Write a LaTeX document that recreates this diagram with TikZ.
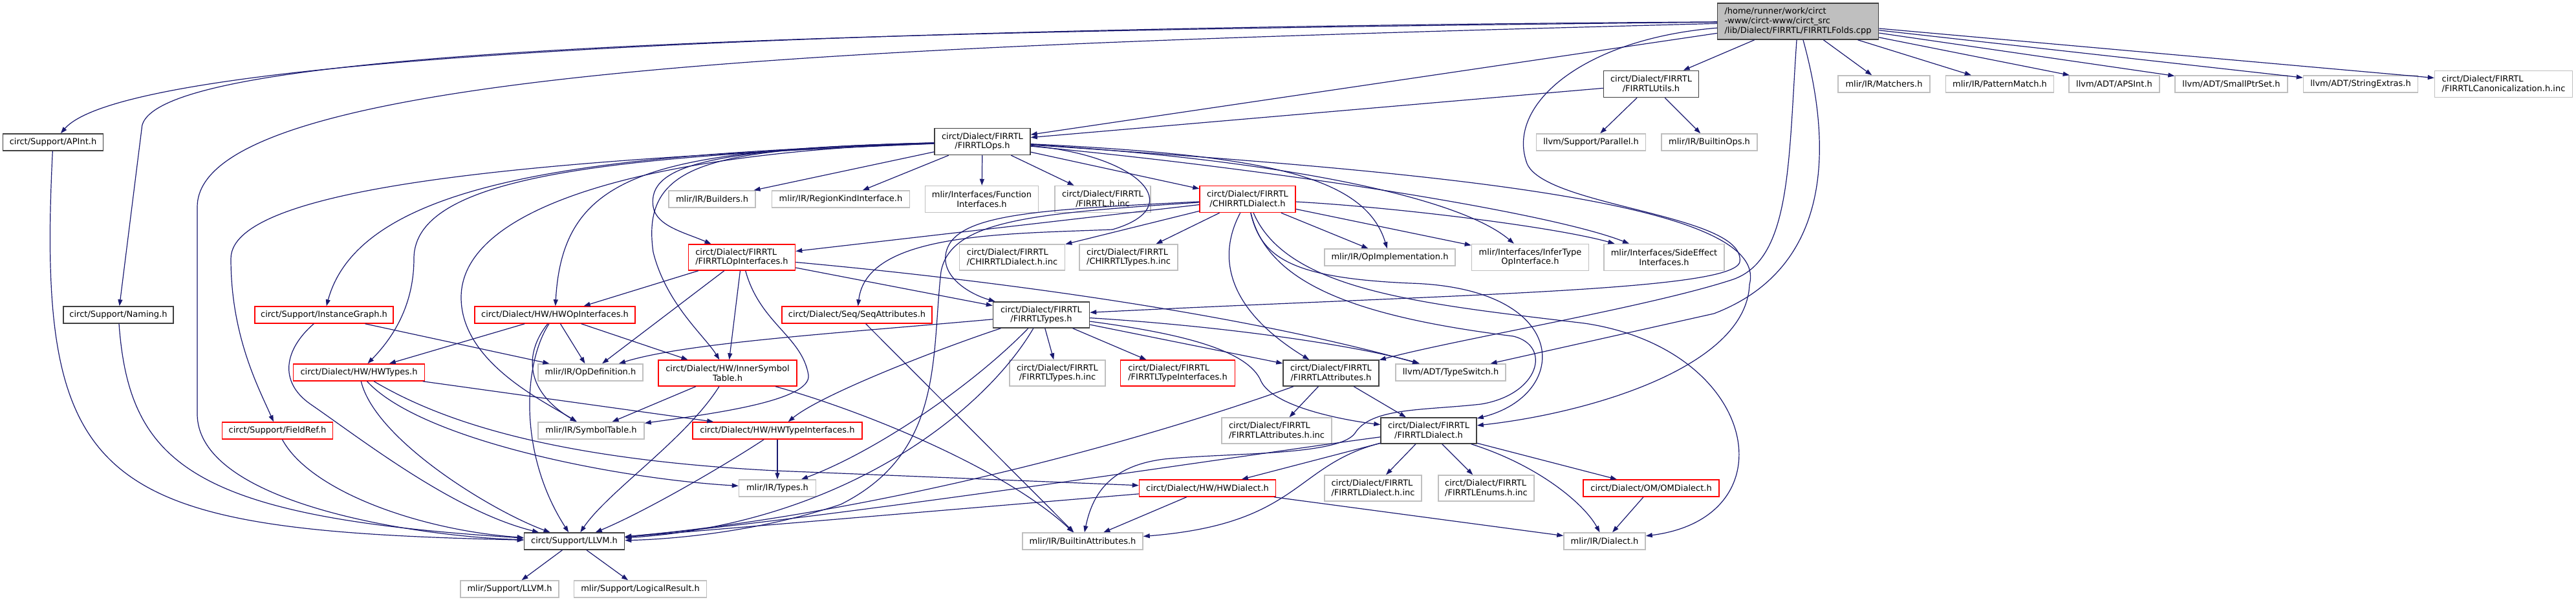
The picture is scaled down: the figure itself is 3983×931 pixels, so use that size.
\documentclass[tikz,border=0pt]{standalone}
\usepackage{fontspec}
\setmainfont{DejaVu Sans}
\usetikzlibrary{arrows.meta}
\definecolor{edgeblue}{HTML}{191970}
\definecolor{boxgray}{HTML}{BFBFBF}
\definecolor{boxdark}{HTML}{404040}
\begin{document}
\begin{tikzpicture}[x=1pt, y=-1pt,
    hdr/.style={draw, fill=white, line width=1.5pt, inner sep=1pt, align=center,
        font=\fontsize{13}{14.7}\selectfont, minimum height=26},
    docbox/.style={hdr, draw=boxdark},
    extbox/.style={hdr, draw=boxgray},
    redbox/.style={hdr, draw=red},
    rootbox/.style={hdr, draw=boxdark, fill=boxgray},
    incl/.style={draw=edgeblue, line width=1.2pt, -{Triangle[length=10pt, width=7pt]}}]
    \useasboundingbox (0,0) rectangle (3983,931);

    % Main file and its top row
    \node[rootbox, align=left, minimum width=249, minimum height=56] (folds) at (2780,33)
        {/home/runner/work/circt\\-www/circt-www/circt\_src\\/lib/Dialect/FIRRTL/FIRRTLFolds.cpp};
    \node[docbox, minimum width=147, minimum height=41] (utils) at (2553,130) {circt/Dialect/FIRRTL\\/FIRRTLUtils.h};
    \node[extbox, minimum width=142] (matchers) at (2913,130) {mlir/IR/Matchers.h};
    \node[extbox, minimum width=167] (pattern) at (3092,130) {mlir/IR/PatternMatch.h};
    \node[extbox, minimum width=140] (apsint) at (3269,130) {llvm/ADT/APSInt.h};
    \node[extbox, minimum width=174] (smallptr) at (3450,130) {llvm/ADT/SmallPtrSet.h};
    \node[extbox, minimum width=177] (strext) at (3650,130) {llvm/ADT/StringExtras.h};
    \node[extbox, align=left, minimum width=213, minimum height=41] (canon) at (3871,130) {circt/Dialect/FIRRTL\\/FIRRTLCanonicalization.h.inc};

    % Second row
    \node[docbox, minimum width=155] (apint) at (82,220) {circt/Support/APInt.h};
    \node[docbox, minimum width=148, minimum height=41] (ops) at (1519,219) {circt/Dialect/FIRRTL\\/FIRRTLOps.h};
    \node[extbox, minimum width=169] (parallel) at (2460,220) {llvm/Support/Parallel.h};
    \node[extbox, minimum width=148] (builtinops) at (2643,220) {mlir/IR/BuiltinOps.h};

    % Third row
    \node[extbox, minimum width=134] (builders) at (1101,308) {mlir/IR/Builders.h};
    \node[extbox, minimum width=213] (regionkind) at (1300,308) {mlir/IR/RegionKindInterface.h};
    \node[extbox, minimum width=175, minimum height=41] (funcif) at (1518,308) {mlir/Interfaces/Function\\Interfaces.h};
    \node[extbox, minimum width=148, minimum height=41] (firrtlinc) at (1705,308) {circt/Dialect/FIRRTL\\/FIRRTL.h.inc};
    \node[redbox, minimum width=148, minimum height=41] (chirrtl) at (1929,308) {circt/Dialect/FIRRTL\\/CHIRRTLDialect.h};

    % Fourth row
    \node[redbox, align=left, minimum width=165, minimum height=40] (opinterfaces) at (1147,398) {circt/Dialect/FIRRTL\\/FIRRTLOpInterfaces.h};
    \node[extbox, align=left, minimum width=163, minimum height=40] (chirrtlinc) at (1565,398) {circt/Dialect/FIRRTL\\/CHIRRTLDialect.h.inc};
    \node[extbox, align=left, minimum width=152, minimum height=40] (chirrtltypesinc) at (1745,398) {circt/Dialect/FIRRTL\\/CHIRRTLTypes.h.inc};
    \node[extbox, minimum width=202] (opimpl) at (2149,398) {mlir/IR/OpImplementation.h};
    \node[extbox, minimum width=181, minimum height=41] (infertype) at (2366,398) {mlir/Interfaces/InferType\\OpInterface.h};
    \node[extbox, minimum width=186, minimum height=41] (sideeffect) at (2573,398) {mlir/Interfaces/SideEffect\\Interfaces.h};

    % Fifth row
    \node[docbox, minimum width=170] (naming) at (183,487) {circt/Support/Naming.h};
    \node[redbox, minimum width=214] (instgraph) at (501,487) {circt/Support/InstanceGraph.h};
    \node[redbox, minimum width=248] (hwopif) at (858,487) {circt/Dialect/HW/HWOpInterfaces.h};
    \node[redbox, minimum width=232] (seqattr) at (1325,487) {circt/Dialect/Seq/SeqAttributes.h};
    \node[docbox, minimum width=149, minimum height=40] (types) at (1610,487) {circt/Dialect/FIRRTL\\/FIRRTLTypes.h};

    % Sixth row
    \node[redbox, minimum width=203] (hwtypes) at (555,576) {circt/Dialect/HW/HWTypes.h};
    \node[extbox, minimum width=162] (opdef) at (913,576) {mlir/IR/OpDefinition.h};
    \node[redbox, minimum width=214, minimum height=40] (innersym) at (1125,577) {circt/Dialect/HW/InnerSymbol\\Table.h};
    \node[extbox, minimum width=148, minimum height=40] (typesinc) at (1635,577) {circt/Dialect/FIRRTL\\/FIRRTLTypes.h.inc};
    \node[redbox, align=left, minimum width=177, minimum height=40] (typeif) at (1821,577) {circt/Dialect/FIRRTL\\/FIRRTLTypeInterfaces.h};
    \node[docbox, minimum width=148, minimum height=40] (attrs) at (2058,577) {circt/Dialect/FIRRTL\\/FIRRTLAttributes.h};
    \node[extbox, minimum width=170] (typeswitch) at (2243,576) {llvm/ADT/TypeSwitch.h};

    % Seventh row
    \node[redbox, minimum width=171] (fieldref) at (429,666) {circt/Support/FieldRef.h};
    \node[extbox, minimum width=164] (symtab) at (914,666) {mlir/IR/SymbolTable.h};
    \node[redbox, minimum width=262] (hwtypeif) at (1202,666) {circt/Dialect/HW/HWTypeInterfaces.h};
    \node[extbox, align=left, minimum width=170, minimum height=40] (attrsinc) at (1974,666) {circt/Dialect/FIRRTL\\/FIRRTLAttributes.h.inc};
    \node[docbox, minimum width=148, minimum height=40] (dialect) at (2209,666) {circt/Dialect/FIRRTL\\/FIRRTLDialect.h};

    % Eighth row
    \node[extbox, minimum width=119] (irtypes) at (1202,755) {mlir/IR/Types.h};
    \node[redbox, minimum width=211] (hwdialect) at (1867,755) {circt/Dialect/HW/HWDialect.h};
    \node[extbox, align=left, minimum width=150, minimum height=40] (dialectinc) at (2123,755) {circt/Dialect/FIRRTL\\/FIRRTLDialect.h.inc};
    \node[extbox, align=left, minimum width=148, minimum height=40] (enumsinc) at (2298,755) {circt/Dialect/FIRRTL\\/FIRRTLEnums.h.inc};
    \node[redbox, minimum width=210] (omdialect) at (2553,755) {circt/Dialect/OM/OMDialect.h};

    % Bottom rows
    \node[docbox, minimum width=155] (llvmh) at (888,837) {circt/Support/LLVM.h};
    \node[extbox, minimum width=186] (builtinattrs) at (1674,837) {mlir/IR/BuiltinAttributes.h};
    \node[extbox, minimum width=126] (irdialect) at (2481,837) {mlir/IR/Dialect.h};
    \node[extbox, minimum width=152] (mlirllvm) at (788,911) {mlir/Support/LLVM.h};
    \node[extbox, minimum width=205] (logical) at (990,911) {mlir/Support/LogicalResult.h};

    % Includes of the main file
    \draw[incl] (folds) .. controls (1100,44) and (190,95) .. (apint);
    \draw[incl] (folds) .. controls (1100,50) and (219,80) .. (219,200) -- (naming);
    \draw[incl] (folds) .. controls (1400,70) and (305,100) .. (305,320) -- (305,640) .. controls (305,780) and (650,830) .. (llvmh);
    \draw[incl] (folds) -- (ops);
    \draw[incl] (folds) -- (utils);
    \draw[incl] (folds) -- (matchers);
    \draw[incl] (folds) -- (pattern);
    \draw[incl] (folds) -- (apsint);
    \draw[incl] (folds) -- (smallptr);
    \draw[incl] (folds) -- (strext);
    \draw[incl] (folds) -- (canon);
    \draw[incl] (folds) .. controls (2450,60) and (2330,160) .. (2360,250) .. controls (2380,320) and (2700,330) .. (2690,405) .. controls (2680,450) and (2250,455) .. (types);
    \draw[incl] (folds) .. controls (2765,250) and (2770,400) .. (2680,432) .. controls (2550,475) and (2250,525) .. (attrs);
    \draw[incl] (folds) .. controls (2840,250) and (2820,420) .. (2650,485) -- (typeswitch);

    % FIRRTLUtils.h, APInt.h, Naming.h
    \draw[incl] (utils) -- (ops);
    \draw[incl] (utils) -- (parallel);
    \draw[incl] (utils) -- (builtinops);
    \draw[incl] (apint) .. controls (55,760) and (150,820) .. (llvmh);
    \draw[incl] (naming) .. controls (200,720) and (300,800) .. (llvmh);

    % FIRRTLOps.h
    \draw[incl] (ops) -- (builders);
    \draw[incl] (ops) -- (regionkind);
    \draw[incl] (ops) -- (funcif);
    \draw[incl] (ops) -- (firrtlinc);
    \draw[incl] (ops) -- (chirrtl);
    \draw[incl] (ops) .. controls (900,245) and (357,280) .. (357,400) .. controls (357,520) and (400,600) .. (fieldref);
    \draw[incl] (ops) .. controls (950,238) and (560,270) .. (instgraph);
    \draw[incl] (ops) .. controls (950,242) and (640,270) .. (640,400) .. controls (640,480) and (600,530) .. (hwtypes);
    \draw[incl] (ops) .. controls (1000,232) and (870,270) .. (hwopif);
    \draw[incl] (ops) .. controls (1000,236) and (713,320) .. (713,460) .. controls (713,560) and (840,620) .. (symtab);
    \draw[incl] (ops) .. controls (1100,230) and (990,250) .. (1010,390) .. controls (1030,470) and (1090,520) .. (innersym);
    \draw[incl] (ops) .. controls (1100,230) and (1000,255) .. (1010,320) .. controls (1015,350) and (1060,360) .. (opinterfaces);
    \draw[incl] (ops) .. controls (1760,240) and (1840,320) .. (1720,355) .. controls (1550,362) and (1340,360) .. (seqattr);
    \draw[incl] (ops) .. controls (1950,240) and (2110,270) .. (opimpl);
    \draw[incl] (ops) .. controls (1950,245) and (2250,300) .. (infertype);
    \draw[incl] (ops) .. controls (2000,265) and (2400,330) .. (sideeffect);
    \draw[incl] (ops) .. controls (2200,265) and (2740,310) .. (2705,440) .. controls (2700,570) and (2450,640) .. (dialect);

    % CHIRRTLDialect.h
    \draw[incl] (chirrtl) -- (opinterfaces);
    \draw[incl] (chirrtl) .. controls (1600,325) and (1470,330) .. (1462,395) .. controls (1458,430) and (1500,455) .. (types);
    \draw[incl] (chirrtl) -- (chirrtlinc);
    \draw[incl] (chirrtl) -- (chirrtltypesinc);
    \draw[incl] (chirrtl) -- (opimpl);
    \draw[incl] (chirrtl) -- (infertype);
    \draw[incl] (chirrtl) .. controls (2150,320) and (2400,350) .. (sideeffect);
    \draw[incl] (chirrtl) .. controls (1880,400) and (1900,480) .. (attrs);
    \draw[incl] (chirrtl) .. controls (1950,400) and (2000,430) .. (2180,438) .. controls (2430,445) and (2430,610) .. (dialect);
    \draw[incl] (chirrtl) .. controls (1990,450) and (2200,470) .. (2450,500) .. controls (2720,540) and (2770,800) .. (irdialect);
    \draw[incl] (chirrtl) .. controls (1960,440) and (2100,490) .. (2340,520) .. controls (2400,535) and (2380,610) .. (2290,625)
        .. controls (2200,635) and (2120,630) .. (2095,670) .. controls (2070,705) and (1900,700) .. (1800,710)
        .. controls (1720,720) and (1690,760) .. (builtinattrs);
    \draw[incl] (chirrtl) .. controls (1600,330) and (1470,340) .. (1455,420) .. controls (1440,550) and (1460,700) .. (1300,780) .. controls (1150,830) and (1000,835) .. (llvmh);

    % FIRRTLOpInterfaces.h
    \draw[incl] (opinterfaces) -- (hwopif);
    \draw[incl] (opinterfaces) -- (opdef);
    \draw[incl] (opinterfaces) -- (innersym);
    \draw[incl] (opinterfaces) .. controls (1175,500) and (1240,520) .. (1250,580) .. controls (1255,620) and (1100,640) .. (symtab);
    \draw[incl] (opinterfaces) -- (types);
    \draw[incl] (opinterfaces) .. controls (1500,430) and (1900,480) .. (typeswitch);

    % HW and support headers
    \draw[incl] (instgraph) -- (opdef);
    \draw[incl] (instgraph) .. controls (440,540) and (430,590) .. (480,625) .. controls (560,680) and (700,790) .. (llvmh);
    \draw[incl] (hwopif) -- (hwtypes);
    \draw[incl] (hwopif) -- (opdef);
    \draw[incl] (hwopif) -- (innersym);
    \draw[incl] (hwopif) .. controls (815,540) and (805,600) .. (symtab);
    \draw[incl] (hwopif) .. controls (810,560) and (800,700) .. (llvmh);
    \draw[incl] (hwtypes) -- (hwtypeif);
    \draw[incl] (hwtypes) .. controls (650,680) and (950,740) .. (irtypes);
    \draw[incl] (hwtypes) .. controls (680,650) and (850,710) .. (1200,728) -- (hwdialect);
    \draw[incl] (hwtypes) .. controls (580,680) and (760,790) .. (llvmh);
    \draw[incl] (innersym) -- (symtab);
    \draw[incl] (innersym) .. controls (1060,680) and (940,760) .. (llvmh);
    \draw[incl] (innersym) .. controls (1350,640) and (1560,730) .. (builtinattrs);
    \draw[incl] (seqattr) -- (builtinattrs);
    \draw[incl] (hwtypeif) -- (irtypes);
    \draw[incl] (hwtypeif) .. controls (1120,720) and (1000,790) .. (llvmh);
    \draw[incl] (fieldref) .. controls (480,760) and (650,820) .. (llvmh);

    % FIRRTLTypes.h
    \draw[incl] (types) -- (typesinc);
    \draw[incl] (types) -- (typeif);
    \draw[incl] (types) -- (attrs);
    \draw[incl] (types) .. controls (1900,505) and (2100,535) .. (typeswitch);
    \draw[incl] (types) .. controls (1820,515) and (1930,540) .. (1950,590) .. controls (1970,630) and (2080,650) .. (dialect);
    \draw[incl] (types) .. controls (1300,515) and (1060,530) .. (opdef);
    \draw[incl] (types) .. controls (1450,540) and (1270,610) .. (hwtypeif);
    \draw[incl] (types) .. controls (1500,600) and (1350,700) .. (irtypes);
    \draw[incl] (types) .. controls (1520,640) and (1300,810) .. (llvmh);

    % FIRRTLAttributes.h and FIRRTLDialect.h
    \draw[incl] (attrs) -- (attrsinc);
    \draw[incl] (attrs) -- (dialect);
    \draw[incl] (attrs) .. controls (1700,705) and (1300,800) .. (llvmh);
    \draw[incl] (dialect) -- (hwdialect);
    \draw[incl] (dialect) -- (dialectinc);
    \draw[incl] (dialect) -- (enumsinc);
    \draw[incl] (dialect) -- (omdialect);
    \draw[incl] (dialect) .. controls (2380,720) and (2450,780) .. (irdialect);
    \draw[incl] (dialect) .. controls (2000,720) and (2010,810) .. (builtinattrs);
    \draw[incl] (dialect) .. controls (1950,700) and (1300,800) .. (llvmh);

    % HWDialect.h, OMDialect.h, LLVM.h
    \draw[incl] (hwdialect) -- (builtinattrs);
    \draw[incl] (hwdialect) -- (irdialect);
    \draw[incl] (hwdialect) -- (llvmh);
    \draw[incl] (omdialect) -- (irdialect);
    \draw[incl] (llvmh) -- (mlirllvm);
    \draw[incl] (llvmh) -- (logical);

\end{tikzpicture}
\end{document}
